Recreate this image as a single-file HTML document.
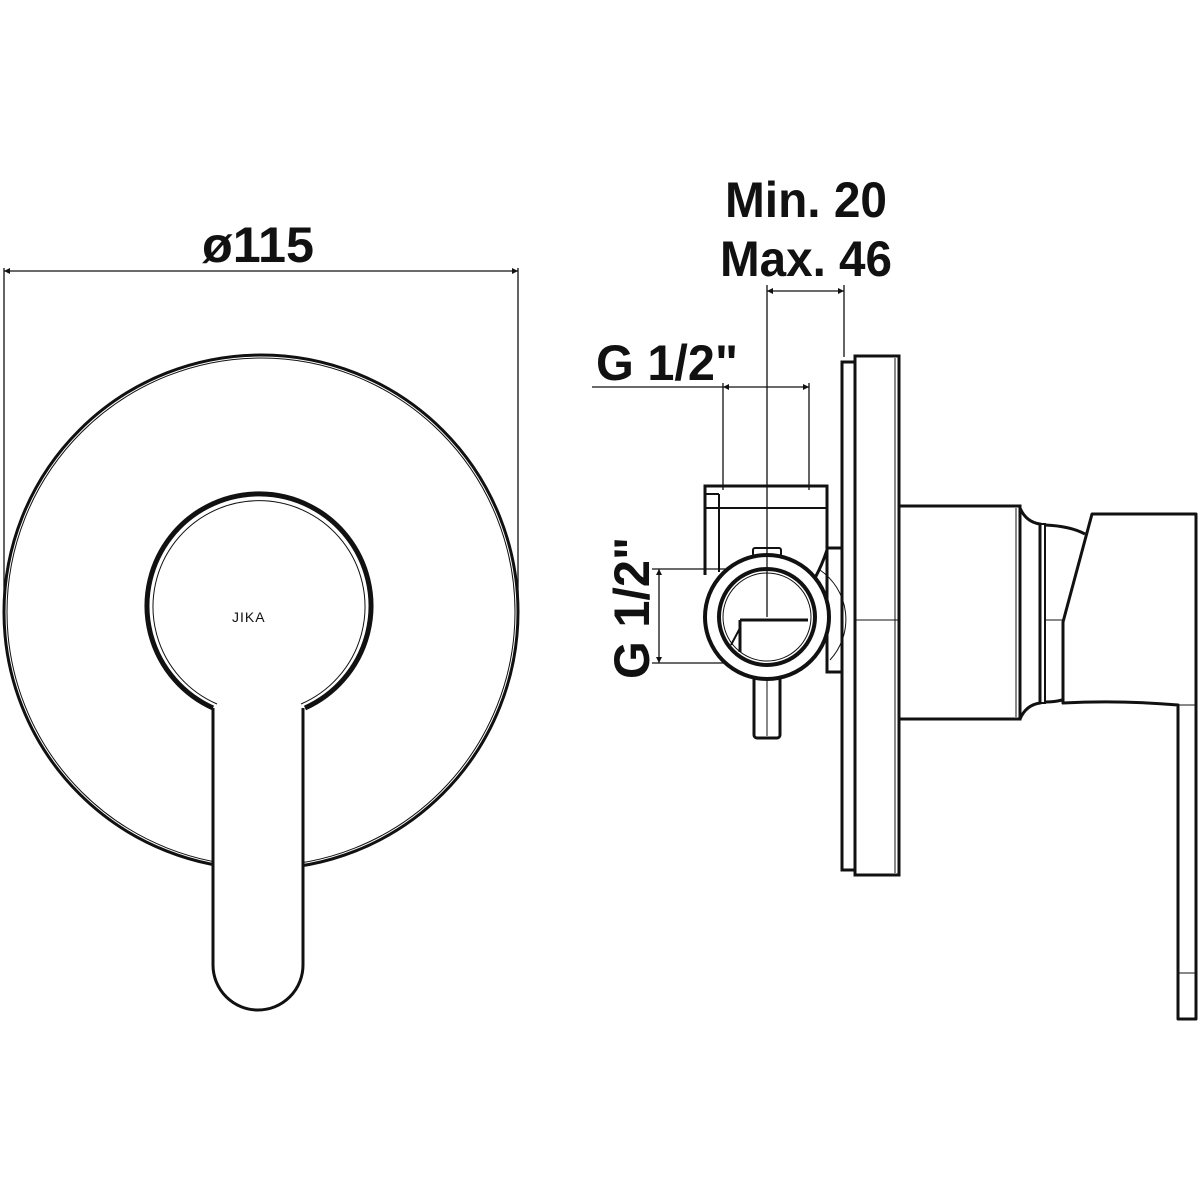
<!DOCTYPE html>
<html><head><meta charset="utf-8"><style>
html,body{margin:0;padding:0;background:#fff;}
svg{display:block;}
text{font-family:"Liberation Sans",sans-serif;font-weight:bold;fill:#111;}
</style></head><body>
<svg width="1200" height="1200" viewBox="0 0 1200 1200" xmlns="http://www.w3.org/2000/svg">
<rect width="1200" height="1200" fill="#fff"/>
<defs>
<marker id="a" viewBox="0 0 10 10" refX="10" refY="5" markerWidth="14" markerHeight="6" markerUnits="userSpaceOnUse" orient="auto-start-reverse"><path d="M0,0 L10,5 L0,10 z" fill="#111"/></marker>
</defs>
<g stroke="#111" fill="none">
<!-- LEFT VIEW -->
<line x1="4" y1="268" x2="4" y2="612" stroke-width="1.3"/>
<line x1="518" y1="268" x2="518" y2="612" stroke-width="1.3"/>
<line x1="4" y1="271" x2="518" y2="271" stroke-width="1.3" marker-start="url(#a)" marker-end="url(#a)"/>
<circle cx="261" cy="612" r="257" stroke-width="3"/>
<circle cx="261" cy="612" r="254" stroke-width="1"/>
<!-- white out circle behind handle -->
<rect x="212" y="700" width="91" height="200" fill="#fff" stroke="none"/>
<path d="M213,708 A112,112 0 1 1 305,708" stroke-width="5"/>
<path d="M217,704 A106,106 0 1 1 301,704" stroke-width="1"/>
<path d="M213,708 L213,965 A45,45 0 0 0 303,965 L303,708" fill="#fff" stroke-width="3"/>
<text x="232" y="622" font-size="14" font-weight="normal" stroke="none" fill="#222" style="font-weight:normal;letter-spacing:1px">JIKA</text>
</g>
<text x="258" y="262" font-size="50" text-anchor="middle" textLength="112" lengthAdjust="spacingAndGlyphs">ø115</text>

<!-- RIGHT VIEW -->
<g stroke="#111" fill="none">
<!-- dims -->
<line x1="767" y1="285" x2="767" y2="617" stroke-width="1.3"/>
<line x1="844" y1="285" x2="844" y2="357" stroke-width="1.3"/>
<line x1="767" y1="291" x2="844" y2="291" stroke-width="1.3" marker-start="url(#a)" marker-end="url(#a)"/>
<line x1="723" y1="383" x2="723" y2="490" stroke-width="1.3"/>
<line x1="809" y1="383" x2="809" y2="490" stroke-width="1.3"/>
<line x1="592" y1="387" x2="723" y2="387" stroke-width="1.3"/>
<line x1="723" y1="387" x2="809" y2="387" stroke-width="1.3" marker-start="url(#a)" marker-end="url(#a)"/>
<line x1="652" y1="569" x2="767" y2="569" stroke-width="1.3"/>
<line x1="652" y1="663" x2="767" y2="663" stroke-width="1.3"/>
<line x1="659" y1="569" x2="659" y2="663" stroke-width="1.3" marker-start="url(#a)" marker-end="url(#a)"/>

<!-- plate -->
<rect x="842" y="362" width="14" height="508" stroke-width="3"/>
<rect x="855" y="356" width="44" height="519" fill="#fff" stroke-width="3"/>
<line x1="895" y1="358" x2="895" y2="873" stroke-width="1"/>
<line x1="855" y1="620" x2="899" y2="620" stroke-width="1"/>
<!-- body -->
<rect x="899" y="506" width="121" height="213" stroke-width="3"/>
<line x1="1016" y1="508" x2="1016" y2="717" stroke-width="1"/>
<line x1="880" y1="620" x2="899" y2="620" stroke-width="1"/>
<path d="M1020,508 Q1026,522 1040,524 L1040,703 Q1026,705 1020,719" stroke-width="3"/>
<rect x="1040" y="524" width="5" height="179" stroke-width="2"/>
<path d="M1045,525 Q1070,526 1085,534" stroke-width="3"/>
<path d="M1045,702 Q1055,702 1062,700" stroke-width="3"/>
<line x1="1045" y1="620" x2="1064" y2="620" stroke-width="1"/>
<!-- handle -->
<path d="M1092,514 L1196,514 L1196,1019 L1178,1019 L1178,705 Q1120,700 1063,703 L1063,622 Z" fill="#fff" stroke-width="3" stroke-linejoin="round"/>
<line x1="1178" y1="705" x2="1196" y2="705" stroke-width="1"/>
<line x1="1178" y1="973" x2="1196" y2="973" stroke-width="1"/>
<!-- valve -->
<rect x="827" y="548" width="15" height="124" stroke-width="3"/>
<path d="M705,575 L705,486 L827,486 L827,550 Q822,565 815,578" stroke-width="3"/>
<line x1="705" y1="508" x2="827" y2="508" stroke-width="2"/>
<line x1="719" y1="494" x2="719" y2="572" stroke-width="2"/>
<line x1="705" y1="494" x2="719" y2="494" stroke-width="2"/>
<path d="M820,570 A60,60 0 0 1 830,660" stroke-width="1"/>
<rect x="754" y="670" width="26" height="68" rx="3" fill="#fff" stroke-width="3"/>
<line x1="767" y1="672" x2="767" y2="736" stroke-width="1"/>
<rect x="753" y="548" width="28" height="8" rx="2" stroke-width="2"/>
<circle cx="767" cy="617" r="62" fill="#fff" stroke-width="4"/>
<circle cx="767" cy="617" r="48" stroke-width="4"/>
<circle cx="767" cy="617" r="44" stroke-width="1"/>
<line x1="767" y1="555" x2="767" y2="617" stroke-width="1.3"/>
<path d="M740,620 L808,620" stroke-width="3"/>
<path d="M740,620 L740,652" stroke-width="3"/>
<line x1="731" y1="645" x2="740" y2="628" stroke-width="2"/>
</g>
<text x="806" y="217" font-size="50" text-anchor="middle" textLength="162" lengthAdjust="spacingAndGlyphs">Min. 20</text>
<text x="806" y="276" font-size="50" text-anchor="middle" textLength="172" lengthAdjust="spacingAndGlyphs">Max. 46</text>
<text x="667" y="380" font-size="50" text-anchor="middle" textLength="142" lengthAdjust="spacingAndGlyphs">G 1/2"</text>
<text transform="translate(649,608) rotate(-90)" x="0" y="0" font-size="50" text-anchor="middle" textLength="142" lengthAdjust="spacingAndGlyphs">G 1/2"</text>
</svg>
</body></html>
